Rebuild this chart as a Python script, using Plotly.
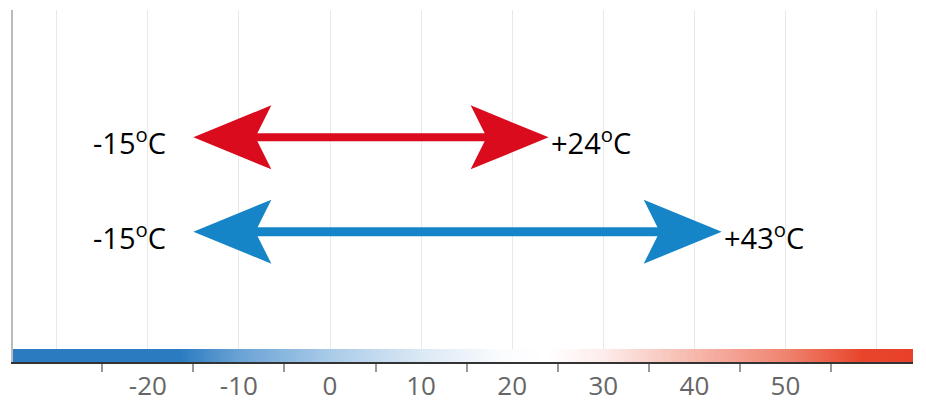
import plotly.graph_objects as go
import numpy as np

# ---- data ----
series = ["Range A", "Range B"]          # rows (top: red, bottom: blue)
low_vals = [-15, -15]
high_vals = [24, 43]
series_colors = ["#d90b1c", "#1585c8"]
row_pos = [1, 0]
line_widths = [8, 9]

grid_vals = [-30, -20, -10, 0, 10, 20, 30, 40, 50, 60]
tick_labels = ["", "-20", "-10", "0", "10", "20", "30", "40", "50", ""]
minor_tick_vals = [-25, -15, -5, 5, 15, 25, 35, 45, 55]

# colour band stops (temperature, colour)
band_stops = [(-34.8, "#2a7bbf"), (-16.5, "#2a7bbf"), (-10, "#6aa2d5"), (0, "#a9cbe8"),
              (10, "#dbe8f5"), (19, "#fbfcfe"), (24, "#ffffff"), (30, "#fdecea"),
              (40, "#f6b8ac"), (50, "#ef8470"), (58.5, "#e8442b"), (64, "#e8412a")]

# ---- layout geometry (page body has an 8px margin) ----
W, H = 918, 402
ML, MR, MT, MB = 5, 13, 2, 48
xr = [-34.8, 64.0]
yr = [-1.380, 2.3485]
px_x = (W - ML - MR) / (xr[1] - xr[0])
px_y = (H - MT - MB) / (yr[1] - yr[0])

head_len = 78 / px_x
notch = 62 / px_x
head_half = 32 / px_y

fig = go.Figure()

# colour band along the axis
zmin, zmax = band_stops[0][0], band_stops[-1][0]
cscale = [[(v - zmin) / (zmax - zmin), c] for v, c in band_stops]
edges = np.linspace(zmin, zmax, 397)
centers = (edges[:-1] + edges[1:]) / 2
band_h = 13 / px_y
fig.add_trace(go.Heatmap(x=edges, y=[yr[0], yr[0] + band_h], z=[centers],
                         colorscale=cscale, zmin=zmin, zmax=zmax, showscale=False,
                         hoverinfo="skip"))

for name, lo, hi, col, yy, lw in zip(series, low_vals, high_vals, series_colors, row_pos, line_widths):
    fig.add_trace(go.Scatter(x=[lo + notch * 0.5, hi - notch * 0.5], y=[yy, yy], mode="lines",
                             line=dict(color=col, width=lw), name=name, showlegend=False,
                             hoverinfo="skip"))
    for tip, d in ((lo, 1), (hi, -1)):
        xs = [tip, tip + d * head_len, tip + d * notch, tip + d * head_len, tip]
        ys = [yy, yy + head_half, yy, yy - head_half, yy]
        fig.add_trace(go.Scatter(x=xs, y=ys, mode="lines", fill="toself", fillcolor=col,
                                 line=dict(width=0, color=col), showlegend=False,
                                 hoverinfo="skip"))
    fig.add_annotation(x=lo, y=yy, text=f"{lo:d}<sup>o</sup>C", showarrow=False,
                       xanchor="right", yanchor="middle", xshift=-25, yshift=-4,
                       font=dict(size=29, color="#000", family="Open Sans"))
    fig.add_annotation(x=hi, y=yy, text=f"+{hi:d}<sup>o</sup>C", showarrow=False,
                       xanchor="left", yanchor="middle", xshift=0, yshift=-4,
                       font=dict(size=29, color="#000", family="Open Sans"))

fig.update_layout(
    width=W, height=H, margin=dict(l=ML, r=MR, t=MT, b=MB),
    paper_bgcolor="white", plot_bgcolor="white", showlegend=False,
    font=dict(family="Open Sans"),
    xaxis=dict(range=xr, tickmode="array", tickvals=grid_vals, ticktext=tick_labels,
               showgrid=True, gridcolor="#e8e8e8", gridwidth=1, zeroline=False,
               ticks="", showline=True, linecolor="#333", linewidth=1.5,
               tickfont=dict(size=26, color="#666", family="Open Sans"),
               minor=dict(tickmode="array", tickvals=minor_tick_vals, ticks="outside",
                          ticklen=8, tickcolor="#999", tickwidth=1.5, showgrid=False),
               fixedrange=True),
    yaxis=dict(range=yr, showgrid=False, zeroline=False, showticklabels=False, ticks="",
               showline=True, linecolor="#bbb", linewidth=2, fixedrange=True),
)

fig.write_html("out.html")
